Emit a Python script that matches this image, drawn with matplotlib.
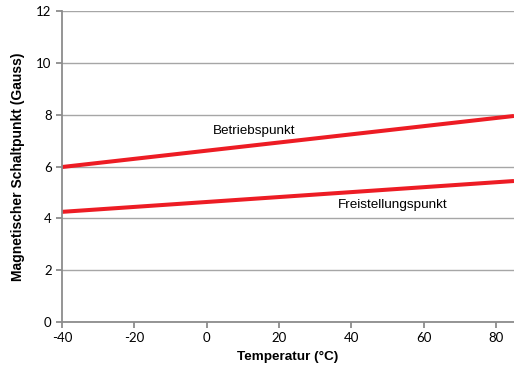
import matplotlib.pyplot as plt

plt.rcParams['axes.unicode_minus'] = False

temps = [-40, 85]
betrieb = [5.98, 7.95]
freistellung = [4.25, 5.44]
xticks = [-40, -20, 0, 20, 40, 60, 80]
yticks = [0, 2, 4, 6, 8, 10, 12]

fig = plt.figure(figsize=(5.14, 3.76), dpi=100)
ax = fig.add_axes([62 / 514, 1 - 322 / 376, 1 - 62 / 514, (322 - 11) / 376])

ax.plot(temps, betrieb, color='#ED1C24', lw=2.9, solid_capstyle='butt')
ax.plot(temps, freistellung, color='#ED1C24', lw=2.9, solid_capstyle='butt')

ax.text(13.2, 7.37, 'Betriebspunkt', ha='center', va='center', fontsize=9.7, family='Liberation Sans')
ax.text(51.5, 4.5, 'Freistellungspunkt', ha='center', va='center', fontsize=9.7, family='Liberation Sans')

ax.set_xlim(-40, 85)
ax.set_ylim(0, 12)
ax.set_xticks(xticks)
ax.set_yticks(yticks)
ax.grid(axis='y', color='#A6A6A6', lw=1)
ax.set_axisbelow(True)
for s in ['top', 'right']:
    ax.spines[s].set_visible(False)
for s in ['left', 'bottom']:
    ax.spines[s].set_color('#8C8C8C')
    ax.spines[s].set_linewidth(1.3)
ax.tick_params(colors='#8C8C8C', length=4, width=1.3, labelcolor='black', labelsize=9.5)
for lbl in ax.get_xticklabels() + ax.get_yticklabels():
    lbl.set_family('Lato')

ax.set_xlabel('Temperatur (°C)', fontsize=9.7, fontweight='bold', family='Liberation Sans', labelpad=5)
ax.set_ylabel('Magnetischer Schaltpunkt (Gauss)', fontsize=10, fontweight='bold', family='Liberation Sans', labelpad=8)

fig.savefig('out.png', dpi=100)
